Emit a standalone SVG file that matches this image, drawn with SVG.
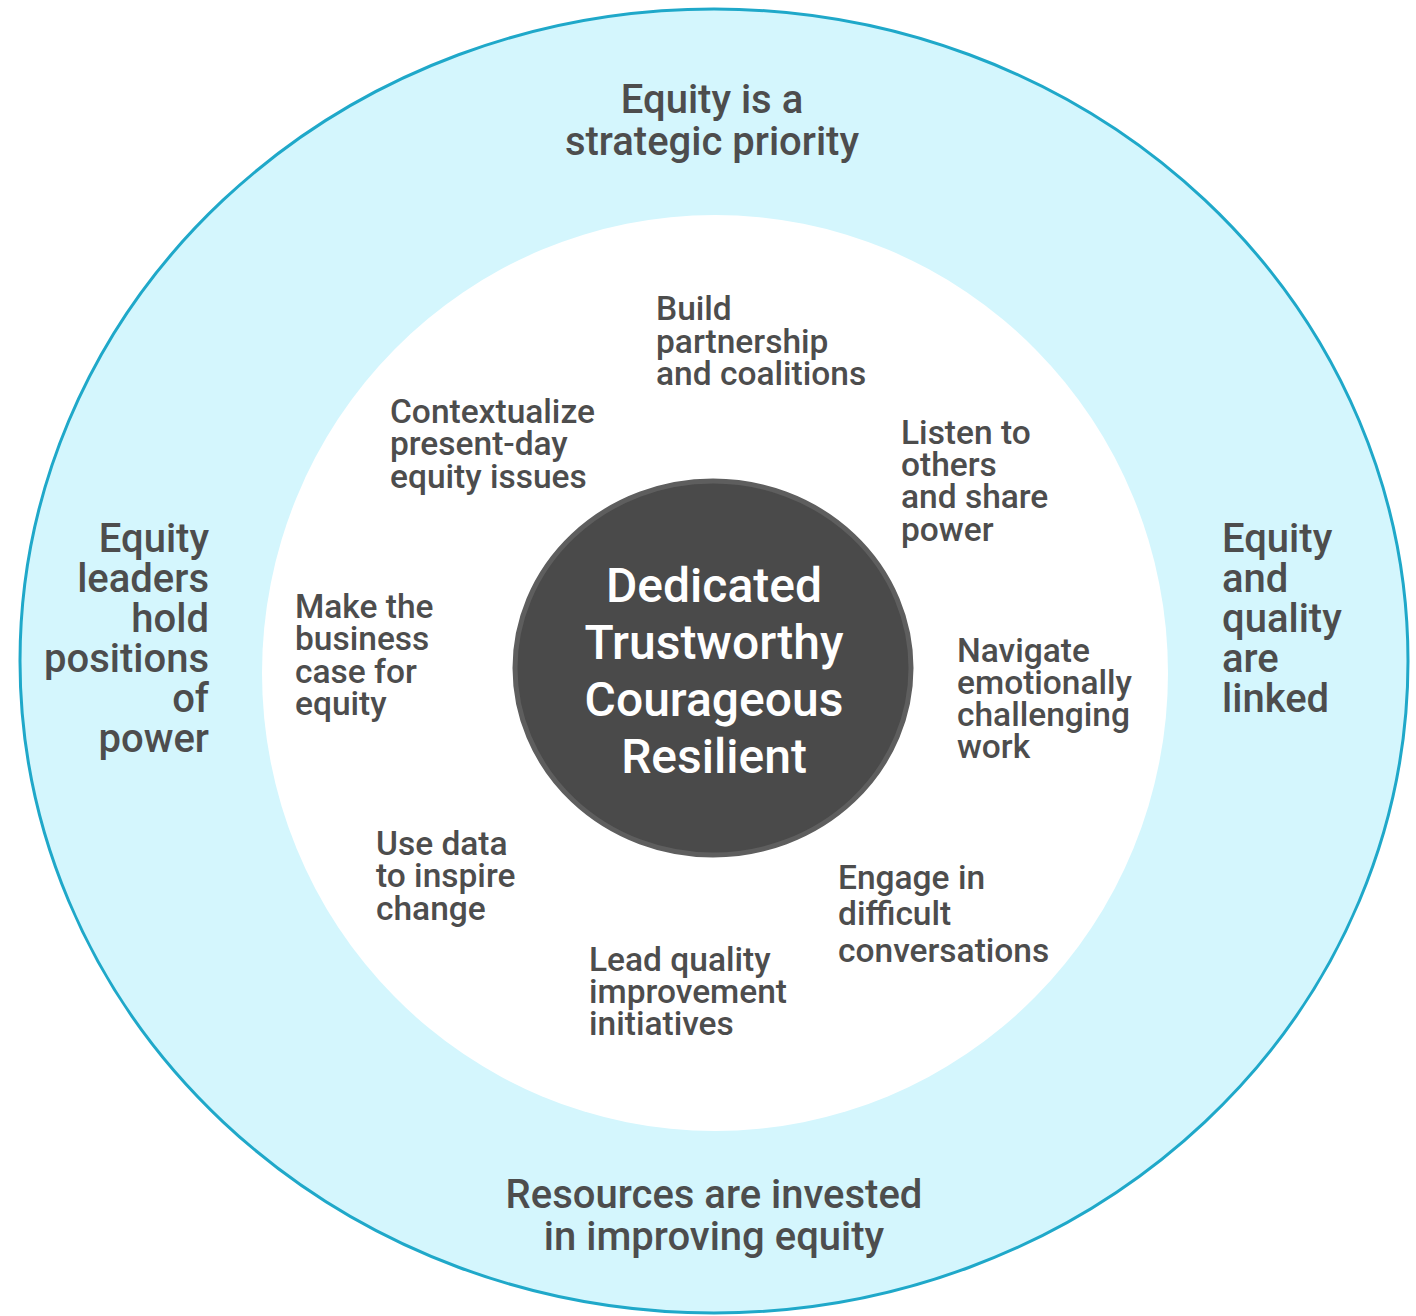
<svg xmlns="http://www.w3.org/2000/svg" width="1416" height="1316" viewBox="0 0 1416 1316">
<style>
text{font-family:Roboto,"Liberation Sans",sans-serif;font-weight:500;fill:#4d4d4d}
.outer{font-size:40px}
.inner{font-size:33.5px}
.core{font-size:48px;fill:#ffffff;text-anchor:middle}
.mid{text-anchor:middle}
.end{text-anchor:end}
</style>
<rect width="1416" height="1316" fill="#ffffff"/>
<g id="outer-ring">
<ellipse cx="714" cy="661" rx="694" ry="652" fill="#d4f6fd" stroke="#1fa8c9" stroke-width="3"/>
</g>
<g id="inner-area">
<ellipse cx="715" cy="673" rx="453" ry="458" fill="#ffffff"/>
</g>
<g id="core">
<ellipse cx="713" cy="668" rx="198" ry="187" fill="#4a4a4a" stroke="#5e5e5e" stroke-width="5"/>
<text class="core" x="714" y="602">Dedicated</text>
<text class="core" x="714" y="659">Trustworthy</text>
<text class="core" x="714" y="716">Courageous</text>
<text class="core" x="714" y="773">Resilient</text>
</g>
<g id="connectors"></g>
<g id="label-top">
<text class="outer mid" x="712" y="113">Equity is a</text>
<text class="outer mid" x="712" y="155">strategic priority</text>
</g>
<g id="label-bottom">
<text class="outer mid" x="714" y="1208">Resources are invested</text>
<text class="outer mid" x="714" y="1250">in improving equity</text>
</g>
<g id="label-left">
<text class="outer end" x="209" y="552">Equity</text>
<text class="outer end" x="209" y="592">leaders</text>
<text class="outer end" x="209" y="632">hold</text>
<text class="outer end" x="209" y="672">positions</text>
<text class="outer end" x="209" y="712">of</text>
<text class="outer end" x="209" y="752">power</text>
</g>
<g id="label-right">
<text class="outer" x="1222" y="552">Equity</text>
<text class="outer" x="1222" y="592">and</text>
<text class="outer" x="1222" y="632">quality</text>
<text class="outer" x="1222" y="672">are</text>
<text class="outer" x="1222" y="712">linked</text>
</g>
<g id="build">
<text class="inner" x="656" y="320">Build</text>
<text class="inner" x="656" y="353">partnership</text>
<text class="inner" x="656" y="385">and coalitions</text>
</g>
<g id="contextualize">
<text class="inner" x="390" y="423">Contextualize</text>
<text class="inner" x="390" y="455">present-day</text>
<text class="inner" x="390" y="488">equity issues</text>
</g>
<g id="listen">
<text class="inner" x="901" y="444">Listen to</text>
<text class="inner" x="901" y="476">others</text>
<text class="inner" x="901" y="508">and share</text>
<text class="inner" x="901" y="541">power</text>
</g>
<g id="business">
<text class="inner" x="295" y="618">Make the</text>
<text class="inner" x="295" y="650">business</text>
<text class="inner" x="295" y="683">case for</text>
<text class="inner" x="295" y="715">equity</text>
</g>
<g id="navigate">
<text class="inner" x="957" y="662">Navigate</text>
<text class="inner" x="957" y="694">emotionally</text>
<text class="inner" x="957" y="726">challenging</text>
<text class="inner" x="957" y="758">work</text>
</g>
<g id="data">
<text class="inner" x="376" y="855">Use data</text>
<text class="inner" x="376" y="887">to inspire</text>
<text class="inner" x="376" y="920">change</text>
</g>
<g id="engage">
<text class="inner" x="838" y="889">Engage in</text>
<text class="inner" x="838" y="925">difficult</text>
<text class="inner" x="838" y="962">conversations</text>
</g>
<g id="lead">
<text class="inner" x="589" y="971">Lead quality</text>
<text class="inner" x="589" y="1003">improvement</text>
<text class="inner" x="589" y="1035">initiatives</text>
</g>
</svg>
